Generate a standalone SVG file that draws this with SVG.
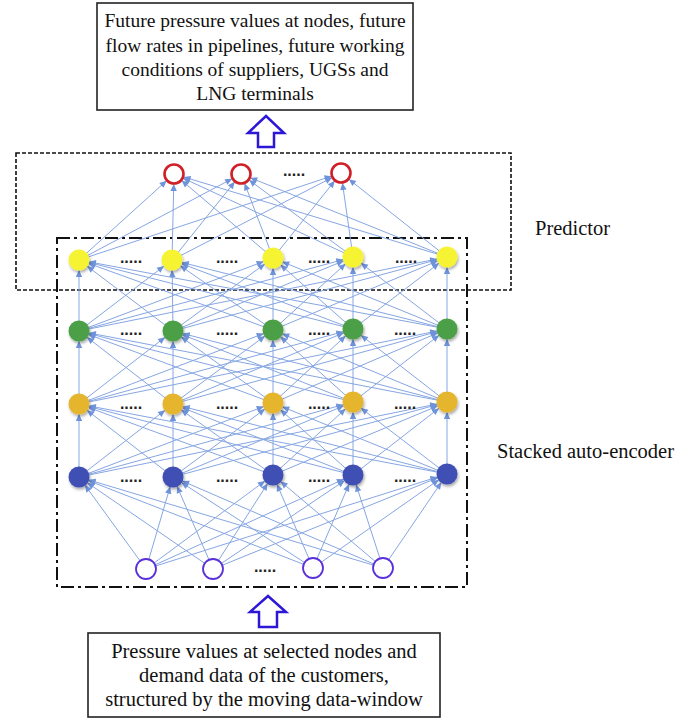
<svg xmlns="http://www.w3.org/2000/svg" width="699" height="720" viewBox="0 0 699 720">
<defs>
<style>
.lbl{font-family:"Liberation Serif","Times New Roman",serif;fill:#111;}
.box{fill:#fff;stroke:#222;stroke-width:1.6;}
.c{stroke:#86a6e2;stroke-width:1;fill:none;marker-end:url(#ah);}
.dots{font-family:"Liberation Sans",Arial,sans-serif;font-weight:bold;font-size:16px;fill:#222;text-anchor:middle;}
.blk{fill:#fff;stroke:#2d17d6;stroke-width:2.5;stroke-linejoin:miter;}
.y{fill:#f6f433;}
.g{fill:#4c9f46;}
.o{fill:#e6b52d;}
.b{fill:#4150b4;}
.r{fill:#fff;stroke:#d11f27;stroke-width:2.6;}
.i{fill:#fff;stroke:#5a30d8;stroke-width:1.8;}
.sh{filter:url(#ds);}
</style>
<marker id="ah" viewBox="0 0 24 8" refX="21" refY="4" markerWidth="24" markerHeight="8" markerUnits="userSpaceOnUse" orient="auto">
<path d="M4,0.8 L11,4 L4,7.2 z" fill="#6f93da"/>
</marker>
<filter id="ds" x="-40%" y="-40%" width="180%" height="180%">
<feDropShadow dx="1" dy="2" stdDeviation="1.4" flood-color="#000" flood-opacity="0.35"/>
</filter>
</defs>
<rect width="699" height="720" fill="#fff"/>

<g id="frames">
<rect x="16" y="153" width="495" height="137" fill="none" stroke="#111" stroke-width="1.6" stroke-dasharray="4,2"/>
<rect x="57" y="238" width="410" height="349" fill="none" stroke="#111" stroke-width="2" stroke-dasharray="13,4,3,4"/>
</g>

<g id="connectors">
<line class="c" x1="146" y1="569" x2="79" y2="477"/>
<line class="c" x1="146" y1="569" x2="173" y2="477"/>
<line class="c" x1="146" y1="569" x2="273" y2="475"/>
<line class="c" x1="146" y1="569" x2="353" y2="475"/>
<line class="c" x1="146" y1="569" x2="447" y2="474"/>
<line class="c" x1="213" y1="569" x2="79" y2="477"/>
<line class="c" x1="213" y1="569" x2="173" y2="477"/>
<line class="c" x1="213" y1="569" x2="273" y2="475"/>
<line class="c" x1="213" y1="569" x2="353" y2="475"/>
<line class="c" x1="213" y1="569" x2="447" y2="474"/>
<line class="c" x1="313" y1="568" x2="79" y2="477"/>
<line class="c" x1="313" y1="568" x2="173" y2="477"/>
<line class="c" x1="313" y1="568" x2="273" y2="475"/>
<line class="c" x1="313" y1="568" x2="353" y2="475"/>
<line class="c" x1="313" y1="568" x2="447" y2="474"/>
<line class="c" x1="383" y1="568" x2="79" y2="477"/>
<line class="c" x1="383" y1="568" x2="173" y2="477"/>
<line class="c" x1="383" y1="568" x2="273" y2="475"/>
<line class="c" x1="383" y1="568" x2="353" y2="475"/>
<line class="c" x1="383" y1="568" x2="447" y2="474"/>
<line class="c" x1="79" y1="477" x2="79" y2="404"/>
<line class="c" x1="79" y1="477" x2="173" y2="404"/>
<line class="c" x1="79" y1="477" x2="273" y2="403"/>
<line class="c" x1="79" y1="477" x2="353" y2="402"/>
<line class="c" x1="79" y1="477" x2="447" y2="402"/>
<line class="c" x1="173" y1="477" x2="79" y2="404"/>
<line class="c" x1="173" y1="477" x2="173" y2="404"/>
<line class="c" x1="173" y1="477" x2="273" y2="403"/>
<line class="c" x1="173" y1="477" x2="353" y2="402"/>
<line class="c" x1="173" y1="477" x2="447" y2="402"/>
<line class="c" x1="273" y1="475" x2="79" y2="404"/>
<line class="c" x1="273" y1="475" x2="173" y2="404"/>
<line class="c" x1="273" y1="475" x2="273" y2="403"/>
<line class="c" x1="273" y1="475" x2="353" y2="402"/>
<line class="c" x1="273" y1="475" x2="447" y2="402"/>
<line class="c" x1="353" y1="475" x2="79" y2="404"/>
<line class="c" x1="353" y1="475" x2="173" y2="404"/>
<line class="c" x1="353" y1="475" x2="273" y2="403"/>
<line class="c" x1="353" y1="475" x2="353" y2="402"/>
<line class="c" x1="353" y1="475" x2="447" y2="402"/>
<line class="c" x1="447" y1="474" x2="79" y2="404"/>
<line class="c" x1="447" y1="474" x2="173" y2="404"/>
<line class="c" x1="447" y1="474" x2="273" y2="403"/>
<line class="c" x1="447" y1="474" x2="353" y2="402"/>
<line class="c" x1="447" y1="474" x2="447" y2="402"/>
<line class="c" x1="79" y1="404" x2="79" y2="331"/>
<line class="c" x1="79" y1="404" x2="173" y2="331"/>
<line class="c" x1="79" y1="404" x2="273" y2="330"/>
<line class="c" x1="79" y1="404" x2="353" y2="329"/>
<line class="c" x1="79" y1="404" x2="447" y2="329"/>
<line class="c" x1="173" y1="404" x2="79" y2="331"/>
<line class="c" x1="173" y1="404" x2="173" y2="331"/>
<line class="c" x1="173" y1="404" x2="273" y2="330"/>
<line class="c" x1="173" y1="404" x2="353" y2="329"/>
<line class="c" x1="173" y1="404" x2="447" y2="329"/>
<line class="c" x1="273" y1="403" x2="79" y2="331"/>
<line class="c" x1="273" y1="403" x2="173" y2="331"/>
<line class="c" x1="273" y1="403" x2="273" y2="330"/>
<line class="c" x1="273" y1="403" x2="353" y2="329"/>
<line class="c" x1="273" y1="403" x2="447" y2="329"/>
<line class="c" x1="353" y1="402" x2="79" y2="331"/>
<line class="c" x1="353" y1="402" x2="173" y2="331"/>
<line class="c" x1="353" y1="402" x2="273" y2="330"/>
<line class="c" x1="353" y1="402" x2="353" y2="329"/>
<line class="c" x1="353" y1="402" x2="447" y2="329"/>
<line class="c" x1="447" y1="402" x2="79" y2="331"/>
<line class="c" x1="447" y1="402" x2="173" y2="331"/>
<line class="c" x1="447" y1="402" x2="273" y2="330"/>
<line class="c" x1="447" y1="402" x2="353" y2="329"/>
<line class="c" x1="447" y1="402" x2="447" y2="329"/>
<line class="c" x1="79" y1="331" x2="79" y2="260"/>
<line class="c" x1="79" y1="331" x2="172" y2="260"/>
<line class="c" x1="79" y1="331" x2="273" y2="258"/>
<line class="c" x1="79" y1="331" x2="353" y2="257"/>
<line class="c" x1="79" y1="331" x2="447" y2="257"/>
<line class="c" x1="173" y1="331" x2="79" y2="260"/>
<line class="c" x1="173" y1="331" x2="172" y2="260"/>
<line class="c" x1="173" y1="331" x2="273" y2="258"/>
<line class="c" x1="173" y1="331" x2="353" y2="257"/>
<line class="c" x1="173" y1="331" x2="447" y2="257"/>
<line class="c" x1="273" y1="330" x2="79" y2="260"/>
<line class="c" x1="273" y1="330" x2="172" y2="260"/>
<line class="c" x1="273" y1="330" x2="273" y2="258"/>
<line class="c" x1="273" y1="330" x2="353" y2="257"/>
<line class="c" x1="273" y1="330" x2="447" y2="257"/>
<line class="c" x1="353" y1="329" x2="79" y2="260"/>
<line class="c" x1="353" y1="329" x2="172" y2="260"/>
<line class="c" x1="353" y1="329" x2="273" y2="258"/>
<line class="c" x1="353" y1="329" x2="353" y2="257"/>
<line class="c" x1="353" y1="329" x2="447" y2="257"/>
<line class="c" x1="447" y1="329" x2="79" y2="260"/>
<line class="c" x1="447" y1="329" x2="172" y2="260"/>
<line class="c" x1="447" y1="329" x2="273" y2="258"/>
<line class="c" x1="447" y1="329" x2="353" y2="257"/>
<line class="c" x1="447" y1="329" x2="447" y2="257"/>
<line class="c" x1="79" y1="260" x2="174" y2="174"/>
<line class="c" x1="79" y1="260" x2="241" y2="174"/>
<line class="c" x1="79" y1="260" x2="341" y2="173"/>
<line class="c" x1="172" y1="260" x2="174" y2="174"/>
<line class="c" x1="172" y1="260" x2="241" y2="174"/>
<line class="c" x1="172" y1="260" x2="341" y2="173"/>
<line class="c" x1="273" y1="258" x2="174" y2="174"/>
<line class="c" x1="273" y1="258" x2="241" y2="174"/>
<line class="c" x1="273" y1="258" x2="341" y2="173"/>
<line class="c" x1="353" y1="257" x2="174" y2="174"/>
<line class="c" x1="353" y1="257" x2="241" y2="174"/>
<line class="c" x1="353" y1="257" x2="341" y2="173"/>
<line class="c" x1="447" y1="257" x2="174" y2="174"/>
<line class="c" x1="447" y1="257" x2="241" y2="174"/>
<line class="c" x1="447" y1="257" x2="341" y2="173"/>
</g>

<g id="output-layer">
<circle id="r1" class="r" cx="174" cy="174" r="9.5"/>
<circle id="r2" class="r" cx="241" cy="174" r="9.5"/>
<circle id="r3" class="r" cx="341" cy="173" r="9.5"/>
<text class="dots" x="294" y="176">.....</text>
</g>
<g id="yellow-layer" class="sh">
<circle id="y1" class="y" cx="79" cy="260" r="10.5"/>
<circle id="y2" class="y" cx="172" cy="260" r="10.5"/>
<circle id="y3" class="y" cx="273" cy="258" r="10.5"/>
<circle id="y4" class="y" cx="353" cy="257" r="10.5"/>
<circle id="y5" class="y" cx="447" cy="257" r="10.5"/>
</g>
<g id="green-layer" class="sh">
<circle id="g1" class="g" cx="79" cy="331" r="10.5"/>
<circle id="g2" class="g" cx="173" cy="331" r="10.5"/>
<circle id="g3" class="g" cx="273" cy="330" r="10.5"/>
<circle id="g4" class="g" cx="353" cy="329" r="10.5"/>
<circle id="g5" class="g" cx="447" cy="329" r="10.5"/>
</g>
<g id="orange-layer" class="sh">
<circle id="o1" class="o" cx="79" cy="404" r="10.5"/>
<circle id="o2" class="o" cx="173" cy="404" r="10.5"/>
<circle id="o3" class="o" cx="273" cy="403" r="10.5"/>
<circle id="o4" class="o" cx="353" cy="402" r="10.5"/>
<circle id="o5" class="o" cx="447" cy="402" r="10.5"/>
</g>
<g id="blue-layer" class="sh">
<circle id="b1" class="b" cx="79" cy="477" r="10.5"/>
<circle id="b2" class="b" cx="173" cy="477" r="10.5"/>
<circle id="b3" class="b" cx="273" cy="475" r="10.5"/>
<circle id="b4" class="b" cx="353" cy="475" r="10.5"/>
<circle id="b5" class="b" cx="447" cy="474" r="10.5"/>
</g>
<g id="input-layer">
<circle id="i1" class="i" cx="146" cy="569" r="10"/>
<circle id="i2" class="i" cx="213" cy="569" r="10"/>
<circle id="i3" class="i" cx="313" cy="568" r="10"/>
<circle id="i4" class="i" cx="383" cy="568" r="10"/>
<text class="dots" x="265" y="572">.....</text>
</g>
<g id="layer-dots">
<text class="dots" x="131" y="263">.....</text>
<text class="dots" x="227" y="263">.....</text>
<text class="dots" x="319" y="263">.....</text>
<text class="dots" x="406" y="263">.....</text>
<text class="dots" x="131" y="335">.....</text>
<text class="dots" x="227" y="335">.....</text>
<text class="dots" x="319" y="335">.....</text>
<text class="dots" x="405" y="335">.....</text>
<text class="dots" x="131" y="409">.....</text>
<text class="dots" x="227" y="409">.....</text>
<text class="dots" x="319" y="409">.....</text>
<text class="dots" x="405" y="409">.....</text>
<text class="dots" x="131" y="482">.....</text>
<text class="dots" x="227" y="482">.....</text>
<text class="dots" x="319" y="482">.....</text>
<text class="dots" x="405" y="482">.....</text>
</g>

<g id="output-box">
<rect class="box" x="97" y="3" width="316" height="107"/>
<text class="lbl" font-size="19.5" text-anchor="middle" x="255" y="27">Future pressure values at nodes, future</text>
<text class="lbl" font-size="19.5" text-anchor="middle" x="255" y="51.5">flow rates in pipelines, future working</text>
<text class="lbl" font-size="19.5" text-anchor="middle" x="255" y="76">conditions of suppliers, UGSs and</text>
<text class="lbl" font-size="19.5" text-anchor="middle" x="255" y="100">LNG terminals</text>
</g>
<g id="arrow-up-top">
<polygon class="blk" points="266,116 284,133 274,133 274,147 258,147 258,133 248,133"/>
</g>
<g id="arrow-up-bottom">
<polygon class="blk" points="268,596 286,612 277,612 277,627 259,627 259,612 250,612"/>
</g>
<g id="input-box">
<rect class="box" x="88" y="633" width="352" height="84"/>
<text class="lbl" font-size="20.5" text-anchor="middle" x="264" y="658">Pressure values at selected nodes and</text>
<text class="lbl" font-size="20.5" text-anchor="middle" x="264" y="682">demand data of the customers,</text>
<text class="lbl" font-size="20.5" text-anchor="middle" x="264" y="706">structured by the moving data-window</text>
</g>
<g id="labels">
<text class="lbl" font-size="20.5" x="535" y="235">Predictor</text>
<text class="lbl" font-size="20.5" x="497" y="458">Stacked auto-encoder</text>
</g>
</svg>
